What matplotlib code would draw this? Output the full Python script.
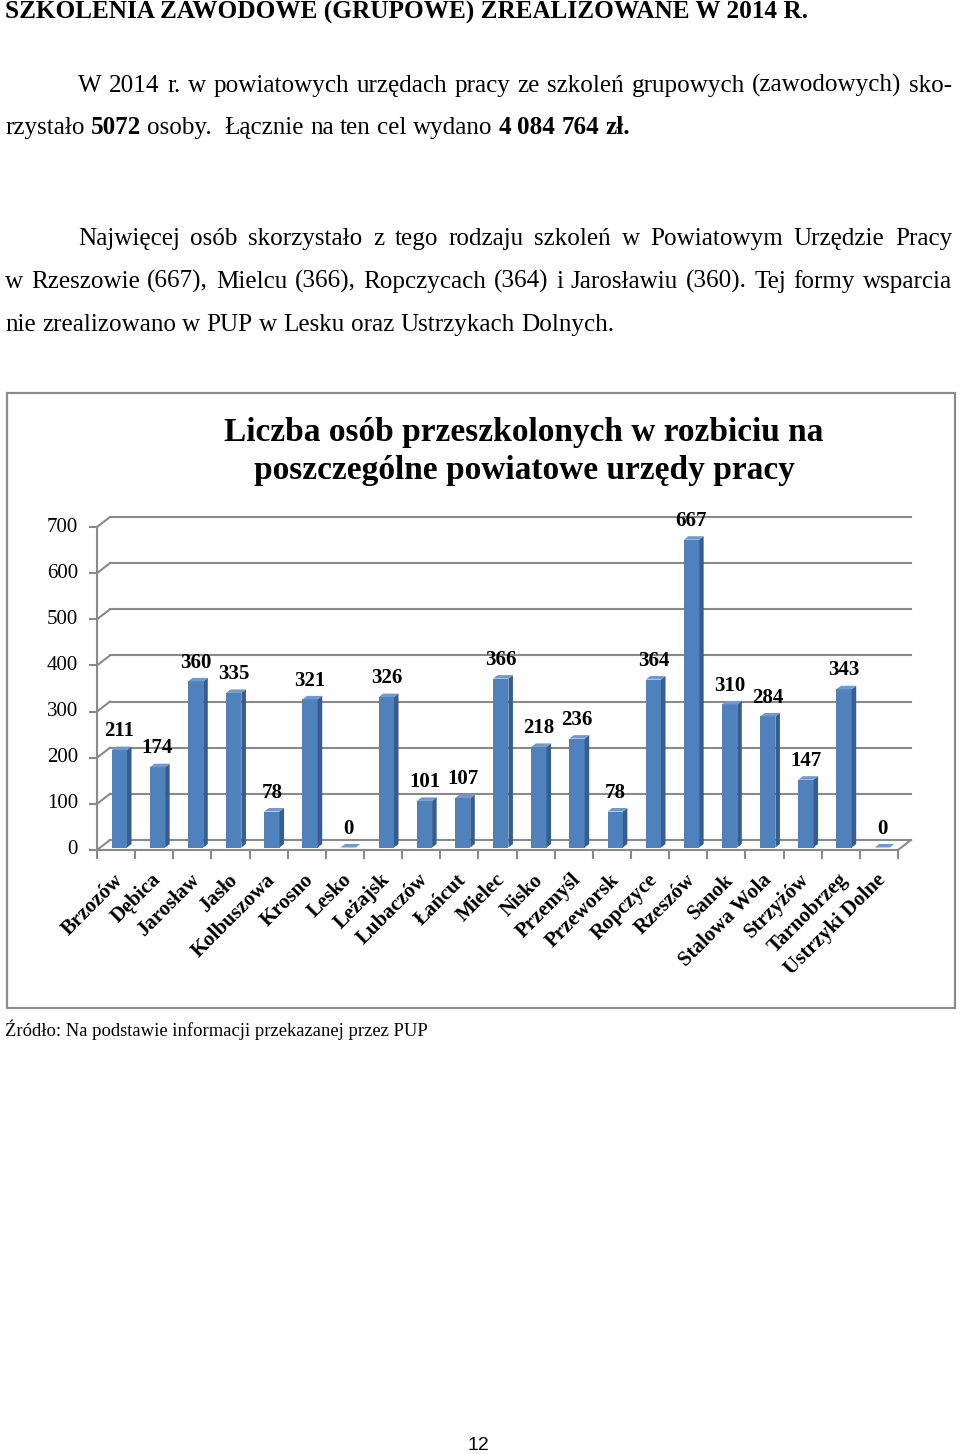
import matplotlib
matplotlib.use('Agg')
import matplotlib.pyplot as plt
from matplotlib.patches import Polygon, Rectangle
from matplotlib.transforms import IdentityTransform

# ---------------- data ----------------
categories = ['Brzozów', 'Dębica', 'Jarosław', 'Jasło', 'Kolbuszowa', 'Krosno',
              'Lesko', 'Leżajsk', 'Lubaczów', 'Łańcut', 'Mielec', 'Nisko',
              'Przemyśl', 'Przeworsk', 'Ropczyce', 'Rzeszów', 'Sanok',
              'Stalowa Wola', 'Strzyżów', 'Tarnobrzeg', 'Ustrzyki Dolne']
values = [211, 174, 360, 335, 78, 321, 0, 326, 101, 107, 366, 218, 236, 78,
          364, 667, 310, 284, 147, 343, 0]
yticks = [0, 100, 200, 300, 400, 500, 600, 700]
chart_title = 'Liczba osób przeszkolonych w rozbiciu na\nposzczególne powiatowe urzędy pracy'

heading = 'SZKOLENIA ZAWODOWE (GRUPOWE) ZREALIZOWANE W 2014 R.'
p1_l1 = 'W 2014 r. w powiatowych urzędach pracy ze szkoleń grupowych (zawodowych) sko-'
p1_l2 = [('rzystało', False), ('5072', True), ('osoby. ', False), ('Łącznie', False),
         ('na', False), ('ten', False), ('cel', False), ('wydano', False),
         ('4', True), ('084', True), ('764', True), ('zł.', True)]
p2_l1 = 'Najwięcej osób skorzystało z tego rodzaju szkoleń w Powiatowym Urzędzie Pracy'
p2_l2 = 'w Rzeszowie (667), Mielcu (366), Ropczycach (364) i Jarosławiu (360). Tej formy wsparcia'
p2_l3 = 'nie zrealizowano w PUP w Lesku oraz Ustrzykach Dolnych.'
source = 'Źródło: Na podstawie informacji przekazanej przez PUP'
page_no = '12'

SERIF = 'Liberation Serif'
W, H = 960, 1454
fig = plt.figure(figsize=(W / 100, H / 100), dpi=100)
fig.patch.set_facecolor('white')
R = fig.canvas.get_renderer()
IDT = IdentityTransform()


def measure(s, size, bold=False, family=SERIF):
    t = fig.text(0, 0, s, fontsize=size, fontweight='bold' if bold else 'normal', family=family)
    w = t.get_window_extent(R).width
    t.remove()
    return w


def fit_size(s, width, bold=False, family=SERIF):
    return 20 * width / measure(s, 20, bold, family)


def draw_words(words, x0, ybase, size, x1=None, family=SERIF):
    widths = [measure(w, size, b, family) for w, b in words]
    if x1 is None:
        gap = 0.25 * size * 100 / 72
    else:
        gap = (x1 - x0 - sum(widths)) / (len(words) - 1)
    x = x0
    for (w, b), wd in zip(words, widths):
        fig.text(x, H - ybase, w, fontsize=size, fontweight='bold' if b else 'normal',
                 family=family, va='baseline', ha='left', transform=IDT)
        x += wd + gap


def plain(s):
    return [(w, False) for w in s.split(' ')]


# ---------------- page text ----------------
hs = fit_size(heading, 803, True)
fig.text(5, H - 19, heading, fontsize=hs, fontweight='bold', family=SERIF,
         va='baseline', ha='left', transform=IDT)

bs = fit_size(p2_l3, 607)
draw_words(plain(p1_l1), 78, 92, bs, 952)
draw_words(p1_l2, 5, 134, bs)
draw_words(plain(p2_l1), 78, 245, bs, 952)
draw_words(plain(p2_l2), 5, 288, bs, 952)
draw_words(plain(p2_l3), 5, 331, bs)

ss = fit_size(source, 423)
fig.text(5, H - 1036, source, fontsize=ss, family=SERIF, va='baseline', ha='left', transform=IDT)
fig.text(478, H - 1450, page_no, fontsize=14, family='Liberation Sans', va='baseline',
         ha='center', transform=IDT)

# chart frame
fig.add_artist(Rectangle((7 / W, 1 - 1008 / H), 948 / W, 615 / H, transform=fig.transFigure,
                         fill=False, ec='#8C8C8C', lw=1.6))

# chart title
l1 = chart_title.split('\n')[0]
ts = fit_size(l1, 599, True)
for k, line in enumerate(chart_title.split('\n')):
    fig.text(524, H - (433 + 38 * k), line, fontsize=ts, fontweight='bold', family=SERIF,
             va='center', ha='center', transform=IDT)

# ---------------- pseudo-3D bar chart ----------------
X0, Y0 = 97, 850
n = len(categories)
PXC = (898 - 97) / n            # px per category
PXV = (850 - 527) / 700.0       # px per value unit
dx = 13 / PXC
dy = 10 / PXV
xmax = n + dx
ymax = yticks[-1] + dy
ax = fig.add_axes([X0 / W, (H - Y0) / H, xmax * PXC / W, ymax * PXV / H])
ax.set_xlim(0, xmax)
ax.set_ylim(0, ymax)
ax.axis('off')

GRID = '#8A8A8A'
glw = 1.5
for v in yticks:
    ax.plot([dx, n + dx], [v + dy, v + dy], color=GRID, lw=glw, clip_on=False, zorder=1)
    ax.plot([0, dx], [v, v + dy], color=GRID, lw=glw, clip_on=False, zorder=1)
    ax.plot([-7 / PXC, 0], [v, v], color=GRID, lw=glw, clip_on=False, zorder=1)
    ax.text(-19 / PXC, v, str(v), ha='right', va='center', fontsize=15, family=SERIF)
ax.plot([0, 0], [0, yticks[-1]], color=GRID, lw=glw, clip_on=False, zorder=1)
ax.plot([0, n], [0, 0], color=GRID, lw=glw, clip_on=False, zorder=1)
ax.plot([n, n + dx], [0, dy], color=GRID, lw=glw, clip_on=False, zorder=1)
for i in range(n + 1):
    ax.plot([i, i], [0, -8 / PXV], color=GRID, lw=glw, clip_on=False, zorder=1)

FRONT, SIDE, TOP = '#4F81BD', '#385D8A', '#7099CC'
df, db, bw = 0.25, 0.6, 0.4
ddx, ddy = (db - df) * dx, (db - df) * dy
base = df * dy
xc = [i + 0.5 + df * dx for i in range(n)]
ax.bar(xc, values, width=bw, bottom=base, color=FRONT, zorder=3, linewidth=0)
for x, v in zip(xc, values):
    xl, xr = x - bw / 2, x + bw / 2
    ax.add_patch(Polygon([(xr, base), (xr + ddx, base + ddy), (xr + ddx, base + ddy + v),
                          (xr, base + v)], closed=True, fc=SIDE, ec='none', zorder=3))
    ax.add_patch(Polygon([(xl, base + v), (xr, base + v), (xr + ddx, base + v + ddy),
                          (xl + ddx, base + v + ddy)], closed=True, fc=TOP, ec='none', zorder=3))
    ax.annotate(str(v), (x, base + v), xytext=(0, 13.5), textcoords='offset points',
                ha='center', va='center', fontsize=15, fontweight='bold', family=SERIF,
                annotation_clip=False)

for i, c in enumerate(categories):
    ax.text(i + 0.5 + 4 / PXC, -27 / PXV, c, rotation=45, ha='right', va='center',
            rotation_mode='anchor', fontsize=15, fontweight='bold', family=SERIF)

fig.savefig('out.png', dpi=100, facecolor='white')
